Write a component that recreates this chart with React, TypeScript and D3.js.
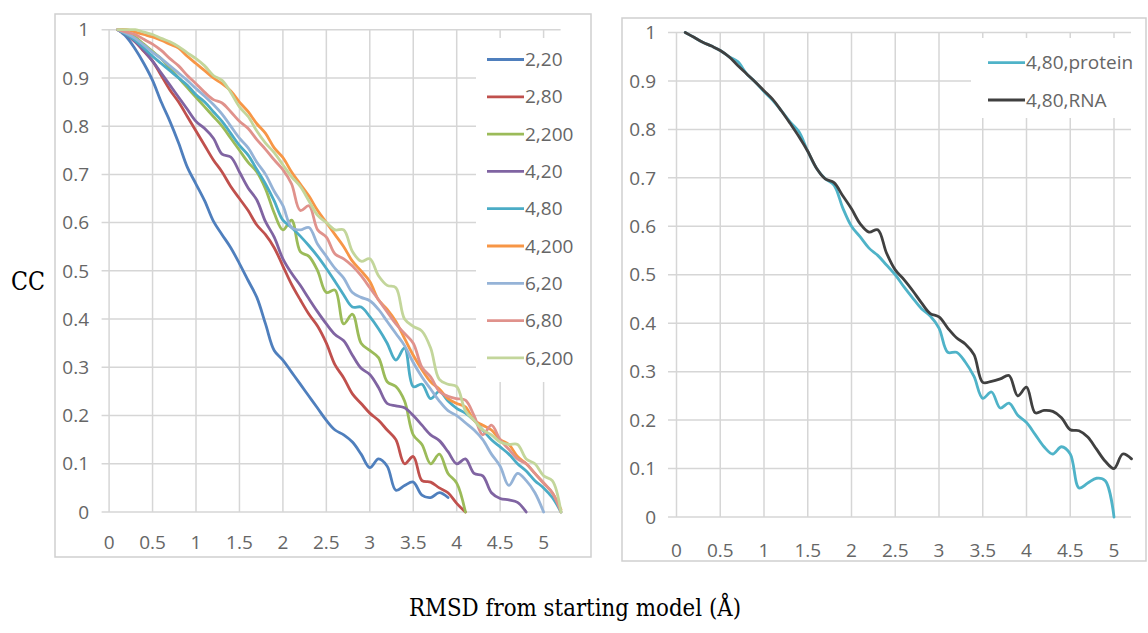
import React from 'react';
import * as d3 from 'd3';

// RMSD sample positions (Å), shared by every series
const rmsd = [
  0.1, 0.2, 0.3, 0.4, 0.5, 0.6, 0.7, 0.8, 0.9, 1.0,
  1.1, 1.2, 1.3, 1.4, 1.5, 1.6, 1.7, 1.8, 1.9, 2.0,
  2.1, 2.2, 2.3, 2.4, 2.5, 2.6, 2.7, 2.8, 2.9, 3.0,
  3.1, 3.2, 3.3, 3.4, 3.5, 3.6, 3.7, 3.8, 3.9, 4.0,
  4.1, 4.2, 4.3, 4.4, 4.5, 4.6, 4.7, 4.8, 4.9, 5.0,
  5.1, 5.2,
];

const xTicks = [0, 0.5, 1, 1.5, 2, 2.5, 3, 3.5, 4, 4.5, 5];
const yTicks = [0, 0.1, 0.2, 0.3, 0.4, 0.5, 0.6, 0.7, 0.8, 0.9, 1];

// left panel
const cc2_20 = [
  1.0, 0.985, 0.96, 0.93, 0.895, 0.85, 0.81, 0.765, 0.715, 0.68,
  0.645, 0.603, 0.575, 0.548, 0.515, 0.48, 0.445, 0.39, 0.335, 0.315,
  0.29, 0.265, 0.24, 0.215, 0.19, 0.17, 0.16, 0.145, 0.12, 0.092,
  0.11, 0.095, 0.045, 0.055, 0.062, 0.035, 0.03, 0.04, 0.03,
];
const cc2_80 = [
  1.0, 0.99, 0.975, 0.955, 0.935, 0.905, 0.875, 0.85, 0.82, 0.79,
  0.76, 0.73, 0.705, 0.675, 0.65, 0.625, 0.595, 0.575, 0.548, 0.51,
  0.472, 0.44, 0.41, 0.385, 0.35, 0.305, 0.278, 0.245, 0.225, 0.205,
  0.19, 0.17, 0.15, 0.1, 0.115, 0.065, 0.062, 0.05, 0.04, 0.018,
  0.0,
];
const cc2_200 = [
  1.0, 0.995, 0.985, 0.97, 0.955, 0.94, 0.92, 0.9, 0.88, 0.86,
  0.84, 0.82, 0.8, 0.775, 0.75, 0.725, 0.705, 0.67, 0.62, 0.585,
  0.605, 0.54, 0.53, 0.5, 0.455, 0.46, 0.39, 0.41, 0.35, 0.335,
  0.32, 0.27, 0.26, 0.23, 0.16, 0.14, 0.1, 0.12, 0.08, 0.06,
  0.0,
];
const cc4_20 = [
  1.0, 0.99, 0.975, 0.957, 0.935, 0.91, 0.885, 0.86, 0.835, 0.81,
  0.795, 0.775, 0.742, 0.736, 0.705, 0.672, 0.647, 0.602, 0.57, 0.525,
  0.495, 0.47, 0.442, 0.415, 0.39, 0.368, 0.355, 0.325, 0.298, 0.285,
  0.258, 0.225, 0.22, 0.216, 0.2, 0.18, 0.16, 0.148, 0.125, 0.1,
  0.11, 0.08, 0.075, 0.04, 0.028, 0.025, 0.02, 0.0,
];
const cc4_80 = [
  1.0, 0.99, 0.978, 0.962, 0.945, 0.93, 0.915, 0.9, 0.885, 0.865,
  0.85, 0.83, 0.81, 0.785, 0.76, 0.74, 0.71, 0.68, 0.645, 0.605,
  0.59, 0.572, 0.552, 0.53, 0.505, 0.478, 0.45, 0.425, 0.425, 0.405,
  0.38, 0.35, 0.315, 0.34, 0.26, 0.265, 0.235, 0.25, 0.23, 0.215,
  0.205, 0.19, 0.17, 0.15, 0.135, 0.12, 0.1, 0.085, 0.065, 0.05,
  0.03, 0.0,
];
const cc4_200 = [
  1.0, 1.0, 0.995, 0.99, 0.985, 0.978, 0.97, 0.962, 0.945, 0.93,
  0.915, 0.9, 0.888, 0.873, 0.85, 0.83, 0.805, 0.785, 0.755, 0.735,
  0.705, 0.68, 0.655, 0.625, 0.6, 0.575, 0.55, 0.52, 0.5, 0.478,
  0.44, 0.42, 0.395, 0.36, 0.325, 0.295, 0.27, 0.255, 0.235, 0.225,
  0.218, 0.19, 0.18, 0.17, 0.15, 0.14, 0.115, 0.1, 0.08, 0.06,
  0.04, 0.005,
];
const cc6_20 = [
  1.0, 0.992, 0.982, 0.968, 0.953, 0.94, 0.925, 0.91, 0.895, 0.878,
  0.862, 0.845, 0.825, 0.8, 0.775, 0.755, 0.725, 0.7, 0.665, 0.635,
  0.59, 0.585, 0.59, 0.555, 0.53, 0.505, 0.485, 0.455, 0.445, 0.438,
  0.42, 0.395, 0.37, 0.345, 0.31, 0.28, 0.255, 0.23, 0.21, 0.2,
  0.185, 0.17, 0.15, 0.12, 0.095, 0.055, 0.08, 0.065, 0.04, 0.0,
];
const cc6_80 = [
  1.0, 0.995, 0.99, 0.98, 0.97, 0.957, 0.94, 0.925, 0.905, 0.888,
  0.87, 0.855, 0.848, 0.83, 0.81, 0.795, 0.772, 0.752, 0.73, 0.71,
  0.68, 0.625, 0.635, 0.585, 0.57, 0.535, 0.525, 0.51, 0.49, 0.465,
  0.44, 0.415, 0.39, 0.37, 0.35, 0.3, 0.28, 0.25, 0.24, 0.235,
  0.232, 0.2, 0.16, 0.18, 0.15, 0.13, 0.11, 0.1, 0.08, 0.06,
  0.04, 0.0,
];
const cc6_200 = [
  1.0, 1.0, 1.0, 0.995, 0.99, 0.982, 0.975, 0.965, 0.952, 0.94,
  0.925, 0.905, 0.895, 0.87, 0.84, 0.82, 0.79, 0.765, 0.745, 0.72,
  0.695, 0.675, 0.645, 0.615, 0.6, 0.585, 0.585, 0.54, 0.52, 0.525,
  0.49, 0.47, 0.465, 0.4, 0.385, 0.375, 0.34, 0.275, 0.265, 0.26,
  0.21, 0.19, 0.17, 0.16, 0.145, 0.14, 0.14, 0.11, 0.1, 0.075,
  0.065, 0.0,
];

// right panel
const protein4_80 = [
  1.0, 0.99, 0.98, 0.972, 0.963, 0.95, 0.94, 0.915, 0.898, 0.878,
  0.86, 0.838, 0.815, 0.795, 0.755, 0.72, 0.698, 0.685, 0.638, 0.6,
  0.578, 0.555, 0.54, 0.52, 0.5, 0.475, 0.452, 0.43, 0.415, 0.39,
  0.34, 0.34, 0.32, 0.29, 0.245, 0.258, 0.225, 0.235, 0.21, 0.195,
  0.17, 0.145, 0.13, 0.145, 0.13, 0.06, 0.07, 0.08, 0.075, 0.0,
];
const rna4_80 = [
  1.0, 0.99, 0.98, 0.972, 0.963, 0.95, 0.932, 0.915, 0.898, 0.88,
  0.862, 0.838, 0.812, 0.785, 0.755, 0.72, 0.698, 0.69, 0.663, 0.636,
  0.605, 0.588, 0.593, 0.545, 0.51, 0.49, 0.467, 0.442, 0.42, 0.413,
  0.39, 0.37, 0.357, 0.335, 0.278, 0.28, 0.285, 0.292, 0.25, 0.268,
  0.215, 0.22, 0.218, 0.205, 0.18, 0.178, 0.165, 0.14, 0.115, 0.1,
  0.13, 0.12,
];

const leftSeries = [
  { name: '2,20', color: '#4f7fbd', values: cc2_20 },
  { name: '2,80', color: '#c0504d', values: cc2_80 },
  { name: '2,200', color: '#9bbb59', values: cc2_200 },
  { name: '4,20', color: '#8064a2', values: cc4_20 },
  { name: '4,80', color: '#4bacc6', values: cc4_80 },
  { name: '4,200', color: '#f79646', values: cc4_200 },
  { name: '6,20', color: '#95b3d7', values: cc6_20 },
  { name: '6,80', color: '#e0928c', values: cc6_80 },
  { name: '6,200', color: '#c3d69b', values: cc6_200 },
];

const rightSeries = [
  { name: '4,80,protein', color: '#4fb3c8', values: protein4_80 },
  { name: '4,80,RNA', color: '#404040', values: rna4_80 },
];

const tickFont = "'Open Sans', sans-serif";

const Panel = ({ frame, xr, yr, plotX, series, legendBox, legendX, legendY, legendGap, yLabelX, xLabelY }) => {
  const x = d3.scaleLinear().domain([0, 5]).range(xr);
  const y = d3.scaleLinear().domain([0, 1]).range(yr);
  const line = d3
    .line<number>()
    .x((d, i) => x(rmsd[i]))
    .y((d) => y(d))
    .curve(d3.curveCatmullRom.alpha(0.5));

  return (
    <g>
      <rect
        x={frame[0]}
        y={frame[1]}
        width={frame[2] - frame[0]}
        height={frame[3] - frame[1]}
        fill="#fff"
        stroke="#cfcfcf"
        strokeWidth={1.5}
      />
      {yTicks.map((t) => (
        <line key={'h' + t} x1={plotX[0]} x2={plotX[1]} y1={y(t)} y2={y(t)} stroke="#d6d6d6" strokeWidth={1.5} />
      ))}
      {xTicks.map((t) => (
        <line key={'v' + t} x1={x(t)} x2={x(t)} y1={y(1)} y2={y(0)} stroke="#d6d6d6" strokeWidth={1.5} />
      ))}
      <rect
        x={legendBox[0]}
        y={legendBox[1]}
        width={legendBox[2] - legendBox[0]}
        height={legendBox[3] - legendBox[1]}
        fill="#fff"
      />
      {series.map((s) => (
        <path
          key={s.name}
          d={line(s.values)}
          fill="none"
          stroke={s.color}
          strokeWidth={2.8}
          strokeLinejoin="round"
          strokeLinecap="round"
        />
      ))}
      {yTicks.map((t) => (
        <text
          key={'yl' + t}
          x={yLabelX}
          y={y(t)}
          dy="0.35em"
          textAnchor="end"
          fontFamily={tickFont}
          fontSize={19}
          fill="#666"
        >
          {t}
        </text>
      ))}
      {xTicks.map((t) => (
        <text
          key={'xl' + t}
          x={x(t)}
          y={xLabelY}
          dy="0.35em"
          textAnchor="middle"
          fontFamily={tickFont}
          fontSize={19}
          fill="#666"
        >
          {t}
        </text>
      ))}
      {series.map((s, i) => (
        <g key={'lg' + s.name} transform={`translate(${legendX},${legendY + i * legendGap})`}>
          <line x1={0} x2={37} stroke={s.color} strokeWidth={2.8} />
          <text x={38} dy="0.35em" fontFamily={tickFont} fontSize={19} fill="#666">
            {s.name}
          </text>
        </g>
      ))}
    </g>
  );
};

export default function App() {
  return (
    <svg
      width={1148}
      height={633}
      style={{ position: 'absolute', left: 0, top: 0, background: '#fff' }}
    >
      <Panel
        frame={[55, 14, 591, 557]}
        xr={[109.1, 543.6]}
        yr={[512, 29.7]}
        plotX={[101.6, 560.6]}
        series={leftSeries}
        legendBox={[476, 38, 590, 382]}
        legendX={487}
        legendY={59.5}
        legendGap={37.3}
        yLabelX={89}
        xLabelY={542}
      />
      <Panel
        frame={[622, 18, 1146, 561]}
        xr={[676.5, 1114]}
        yr={[517, 32.5]}
        plotX={[668, 1131]}
        series={rightSeries}
        legendBox={[971, 38, 1145, 118]}
        legendX={988}
        legendY={62.7}
        legendGap={37.3}
        yLabelX={656}
        xLabelY={550}
      />
      <text
        x={11}
        y={281}
        dy="0.35em"
        fontFamily="'DejaVu Serif', serif"
        fontSize={26}
        textLength={34}
        lengthAdjust="spacingAndGlyphs"
        fill="#000"
      >
        CC
      </text>
      <text
        x={409}
        y={616}
        fontFamily="'DejaVu Serif', serif"
        fontSize={25}
        textLength={332}
        lengthAdjust="spacingAndGlyphs"
        fill="#000"
      >
        RMSD from starting model (Å)
      </text>
    </svg>
  );
}
